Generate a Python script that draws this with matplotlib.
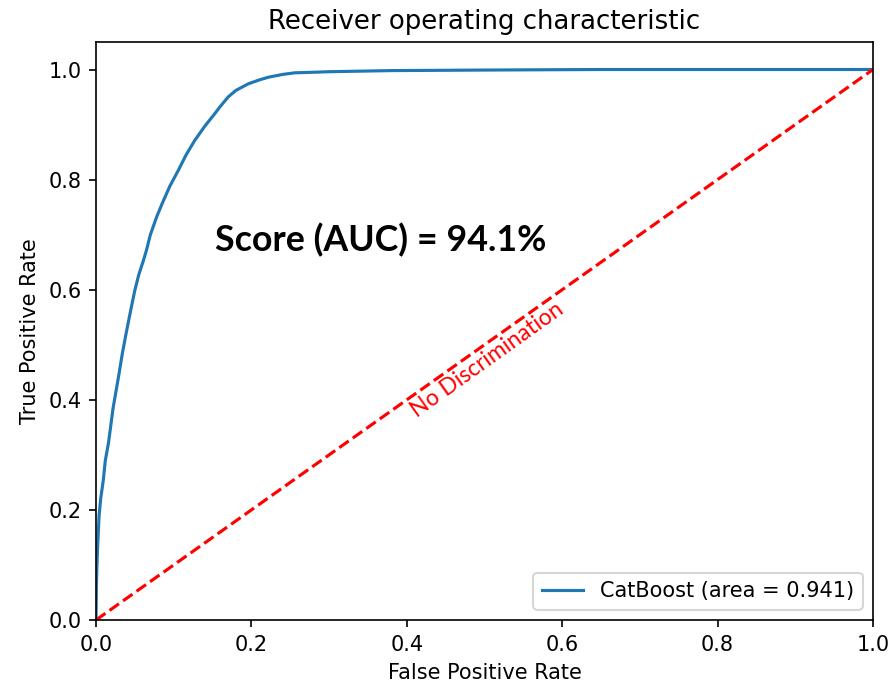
import numpy as np
import matplotlib
matplotlib.use("Agg")
import matplotlib.pyplot as plt

# ROC curve points for the CatBoost model
fpr = [0.0, 0.0005, 0.001, 0.002, 0.004, 0.006, 0.0094, 0.012, 0.016, 0.022,
       0.029, 0.034, 0.0395, 0.045, 0.050, 0.055, 0.061, 0.065, 0.070, 0.078,
       0.085, 0.095, 0.106, 0.116, 0.127, 0.140, 0.153, 0.160, 0.170, 0.180,
       0.196, 0.210, 0.222, 0.240, 0.256, 0.280, 0.30, 0.34, 0.38, 0.44,
       0.50, 0.65, 1.0]
tpr = [0.0, 0.06, 0.09, 0.13, 0.19, 0.22, 0.254, 0.29, 0.321, 0.385,
       0.442, 0.485, 0.526, 0.565, 0.599, 0.627, 0.653, 0.672, 0.70, 0.732,
       0.756, 0.788, 0.817, 0.845, 0.871, 0.897, 0.920, 0.933, 0.950, 0.962,
       0.974, 0.981, 0.986, 0.991, 0.994, 0.995, 0.996, 0.997, 0.998, 0.9985,
       0.999, 1.0, 1.0]
roc_auc = 0.941
model_name = "CatBoost"

dpi = 150
fig = plt.figure(figsize=(893 / dpi, 687 / dpi), dpi=dpi)
ax = fig.add_axes([0.1075, 0.0975, 0.9776 - 0.1075, 0.9389 - 0.0975])

ax.plot(fpr, tpr, label='%s (area = %0.3f)' % (model_name, roc_auc))
ax.plot([0, 1], [0, 1], 'r--')
ax.set_xlim([0.0, 1.0])
ax.set_ylim([0.0, 1.05])
ax.set_xlabel('False Positive Rate')
ax.set_ylabel('True Positive Rate')
ax.set_title('Receiver operating characteristic', fontsize=12.5)
ax.legend(loc="lower right")

ax.text(0.366, 0.69, 'Score (AUC) = %.1f%%' % (roc_auc * 100), fontsize=17.2,
        fontweight='bold', family='Lato', ha='center', va='center')
ax.text(0.503, 0.472, 'No Discrimination', color='red', fontsize=11,
        family='Lato', rotation=35.5, ha='center', va='center',
        rotation_mode='anchor')

fig.savefig('out.png', dpi=dpi)
